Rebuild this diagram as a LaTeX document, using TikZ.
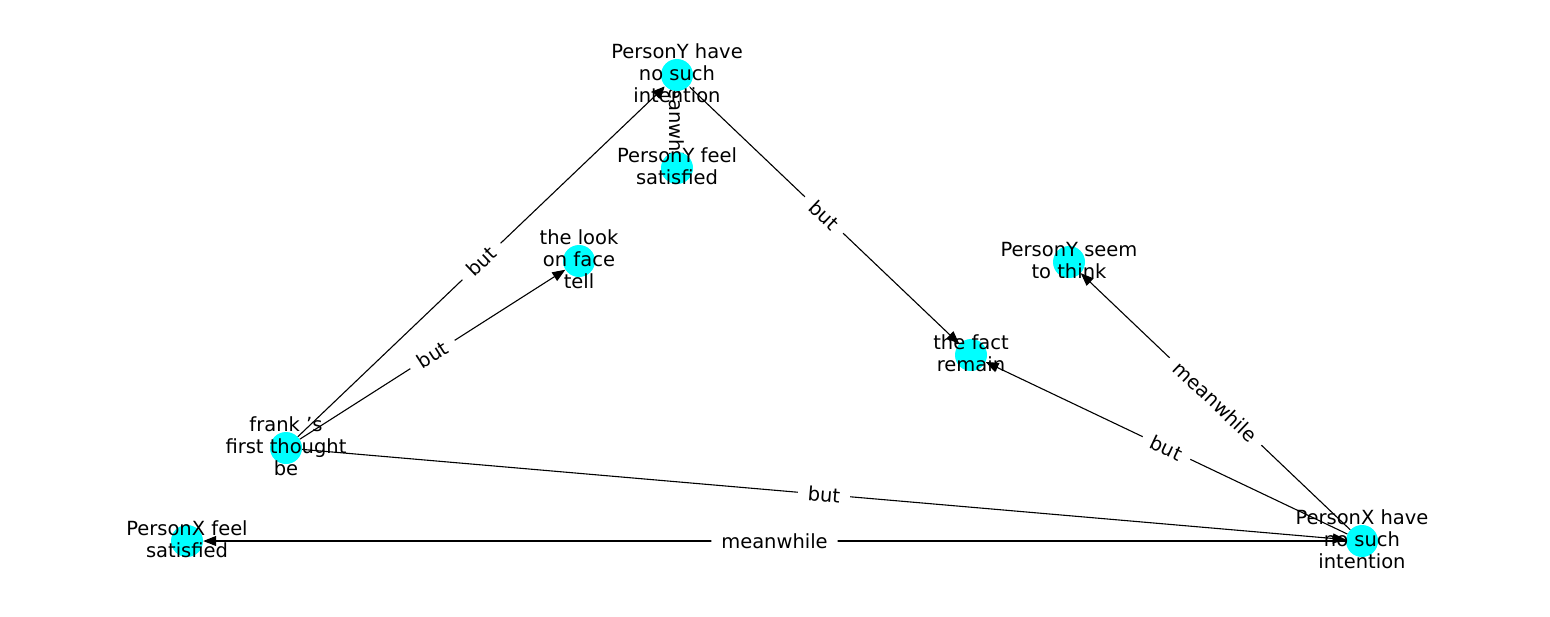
\documentclass[tikz,border=0pt]{standalone}
\usepackage{fontspec}
\setmainfont{DejaVu Sans}
\usetikzlibrary{arrows.meta}
\definecolor{vertexfill}{RGB}{0,255,255}
\pgfdeclarelayer{edges}
\pgfdeclarelayer{elabels}
\pgfsetlayers{edges,elabels,main}
\tikzset{
  vertex/.style={circle, fill=vertexfill, draw=none, minimum size=32pt, inner sep=0pt},
  vtext/.style={align=center, inner sep=0pt, yshift=1.5pt, font=\fontsize{19.5}{22}\selectfont, text=black},
  link/.style={draw=black, line width=1.1pt, -{Triangle[length=13pt,width=10pt]}},
  elabel/.style={midway, sloped, fill=white, rounded corners=4pt, inner xsep=10pt, inner ysep=5pt,
                 font=\fontsize{19.5}{22}\selectfont, text=black},
}
\begin{document}
\begin{tikzpicture}[x=1pt, y=-1pt]
\useasboundingbox (0,0) rectangle (1550,616);

% vertices
\node[vertex] (pyh)  at (677,75)   {};
\node[vertex] (pyf)  at (677,168)  {};
\node[vertex] (look) at (579,261)  {};
\node[vertex] (pys)  at (1069,262) {};
\node[vertex] (fact) at (971,355)  {};
\node[vertex] (fr)   at (286,448)  {};
\node[vertex] (pxf)  at (187,541)  {};
\node[vertex] (pxh)  at (1362,541) {};

% vertex captions
\node[vtext] (tpyh)  at (pyh)  {PersonY have\\no such\\intention};
\node[vtext] (tpyf)  at (pyf)  {PersonY feel\\satisfied};
\node[vtext] (tlook) at (look) {the look\\on face\\tell};
\node[vtext] (tpys)  at (pys)  {PersonY seem\\to think};
\node[vtext] (tfact) at (fact) {the fact\\remain};
\node[vtext] (tfr)   at (fr)   {frank 's\\first thought\\be};
\node[vtext] (tpxf)  at (pxf)  {PersonX feel\\satisfied};
\node[vtext] (tpxh)  at (pxh)  {PersonX have\\no such\\intention};

% connectors
\begin{pgfonlayer}{edges}
\draw[link] (fr)  -- (pyh);
\draw[link] (fr)  -- (look);
\draw[link] (fr)  -- (pxh);
\draw[link] (pyh) -- (pyf);
\draw[link] (pyh) -- (fact);
\draw[link] (pxh) -- (fact);
\draw[link] (pxh) -- (pys);
\draw[link] (pxh) -- (pxf);
\end{pgfonlayer}

% connector labels
\begin{pgfonlayer}{elabels}
\path (fr)  -- (pyh)  node[elabel] (l1) {but};
\path (fr)  -- (look) node[elabel] (l2) {but};
\path (fr)  -- (pxh)  node[elabel] (l3) {but};
\path (pyh) -- (pyf)  node[elabel] (l4) {meanwhile};
\path (pyh) -- (fact) node[elabel] (l5) {but};
\path (pxh) -- (fact) node[elabel] (l6) {but};
\path (pxh) -- (pys)  node[elabel] (l7) {meanwhile};
\path (pxh) -- (pxf)  node[elabel] (l8) {meanwhile};
\end{pgfonlayer}
\end{tikzpicture}
\end{document}
